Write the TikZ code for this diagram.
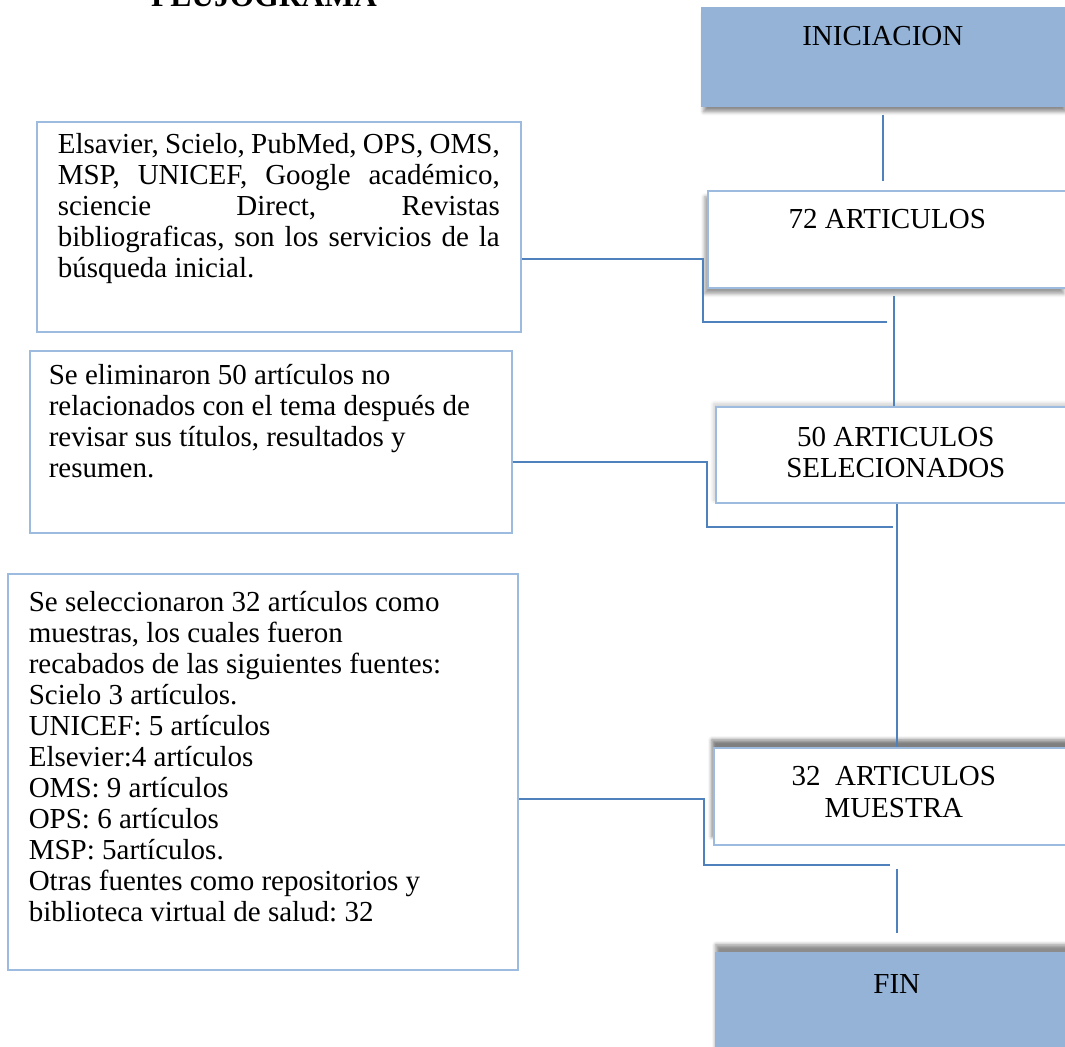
\documentclass[tikz,border=0pt]{standalone}
\usepackage{fontspec}
\setmainfont{Liberation Serif}
\usetikzlibrary{calc,shadows.blur}
\definecolor{fondo}{HTML}{95B3D7}
\definecolor{borde}{HTML}{9DBBDF}
\definecolor{linea}{HTML}{4F81BD}

\begin{document}
\begin{tikzpicture}[x=0.5pt, y=-0.5pt,
    caja/.style={draw=borde, line width=0.8pt, fill=white, anchor=north west, inner ysep=0pt,
      font=\fontsize{14.5}{15.5}\selectfont},
    nota/.style={caja, align=left,
      execute at begin node={\spaceskip=0pt\xspaceskip=0pt\frenchspacing}},
    paso/.style={caja, align=center, inner xsep=0pt, text width=180pt, text height=18.75pt, text depth=29.75pt,
      execute at begin node={\spaceskip=.25em\xspaceskip=.25em}},
    azul/.style={paso, fill=fondo, draw=fondo},
    link/.style={draw=linea, line width=1.2pt}]

    \useasboundingbox (0,0) rectangle (1065,1047);

    \node[font=\bfseries\fontsize{15.75}{18}\selectfont, anchor=base] (tit) at (264,7) {FLUJOGRAMA};

    % pasos de la derecha
    \node[azul, text width=181pt, text depth=30.25pt,
      blur shadow={shadow xshift=1pt, shadow yshift=-3pt, shadow opacity=45}] (ini) at (701,7) {INICIACION};
    \node[paso, text width=179.5pt,
      blur shadow={shadow xshift=-1.5pt, shadow yshift=-3pt, shadow opacity=40}] (art) at (707,190) {72 ARTICULOS};
    \node[paso, text height=20pt, text depth=28.25pt,
      blur shadow={shadow xshift=-1pt, shadow yshift=1.5pt, shadow opacity=20}] (sel) at (715,406) {50 ARTICULOS\\SELECIONADOS};
    \node[paso, font=\fontsize{14.5}{16}\selectfont,
      blur shadow={shadow xshift=-1pt, shadow yshift=4pt, shadow opacity=50}] (mue) at (713,747) {32\ \ ARTICULOS\\MUESTRA};
    \node[azul, text width=181pt, text height=20.25pt, text depth=36pt,
      blur shadow={shadow xshift=0pt, shadow yshift=4pt, shadow opacity=45}] (fin) at (715,952) {FIN};

    % notas de la izquierda
    \node[nota, text width=221pt, inner xsep=10.5pt, text height=16pt, text depth=89pt] (fa) at (36,121) {%
      \makebox[221pt][s]{Elsavier, Scielo, PubMed, OPS, OMS,}\\
      \makebox[221pt][s]{MSP, UNICEF, Google académico,}\\
      \makebox[221pt][s]{sciencie Direct, Revistas}\\
      \makebox[221pt][s]{bibliograficas, son los servicios de la}\\
      búsqueda inicial.};
    \node[nota, text width=222pt, inner xsep=9.5pt, text height=17pt, text depth=74pt] (fb) at (29,350) {%
      Se eliminaron 50 artículos no\\
      relacionados con el tema después de\\
      revisar sus títulos, resultados y\\
      resumen.};
    \node[nota, text width=234pt, inner xsep=10.5pt, text height=19pt, text depth=179pt] (fc) at (7,573) {%
      Se seleccionaron 32 artículos como\\
      muestras, los cuales fueron\\
      recabados de las siguientes fuentes:\\
      Scielo 3 artículos.\\
      UNICEF: 5 artículos\\
      Elsevier:4 artículos\\
      OMS: 9 artículos\\
      OPS: 6 artículos\\
      MSP: 5artículos.\\
      Otras fuentes como repositorios y\\
      biblioteca virtual de salud: 32};

    % uniones
    \coordinate (j1) at (703,259);
    \coordinate (k1) at (703,322);
    \coordinate (e1) at (887,322);
    \coordinate (j2) at (707,462);
    \coordinate (k2) at (707,527);
    \coordinate (e2) at (893,527);
    \coordinate (j3) at (704,799);
    \coordinate (k3) at (704,865);
    \coordinate (e3) at (890,865);

    \draw[link] ($(ini.south)+(0,8)$) -- ($(ini.south |- art.north)+(0,-9)$);
    \draw[link] ($(art.south -| sel.north)+(-2,7)$) -- ($(sel.north)+(-2,0)$);
    \draw[link] ($(sel.south)+(1,0)$) -- ($(sel.south |- mue.north)+(1,0)$);
    \draw[link] ($(fin.north |- mue.south)+(0,23)$) -- ($(fin.north)+(0,-19)$);

    \draw[link] (fa.east |- j1) -- (j1) -- (k1) -- (e1);
    \draw[link] (fb.east |- j2) -- (j2) -- (k2) -- (e2);
    \draw[link] (fc.east |- j3) -- (j3) -- (k3) -- (e3);

\end{tikzpicture}
\end{document}
